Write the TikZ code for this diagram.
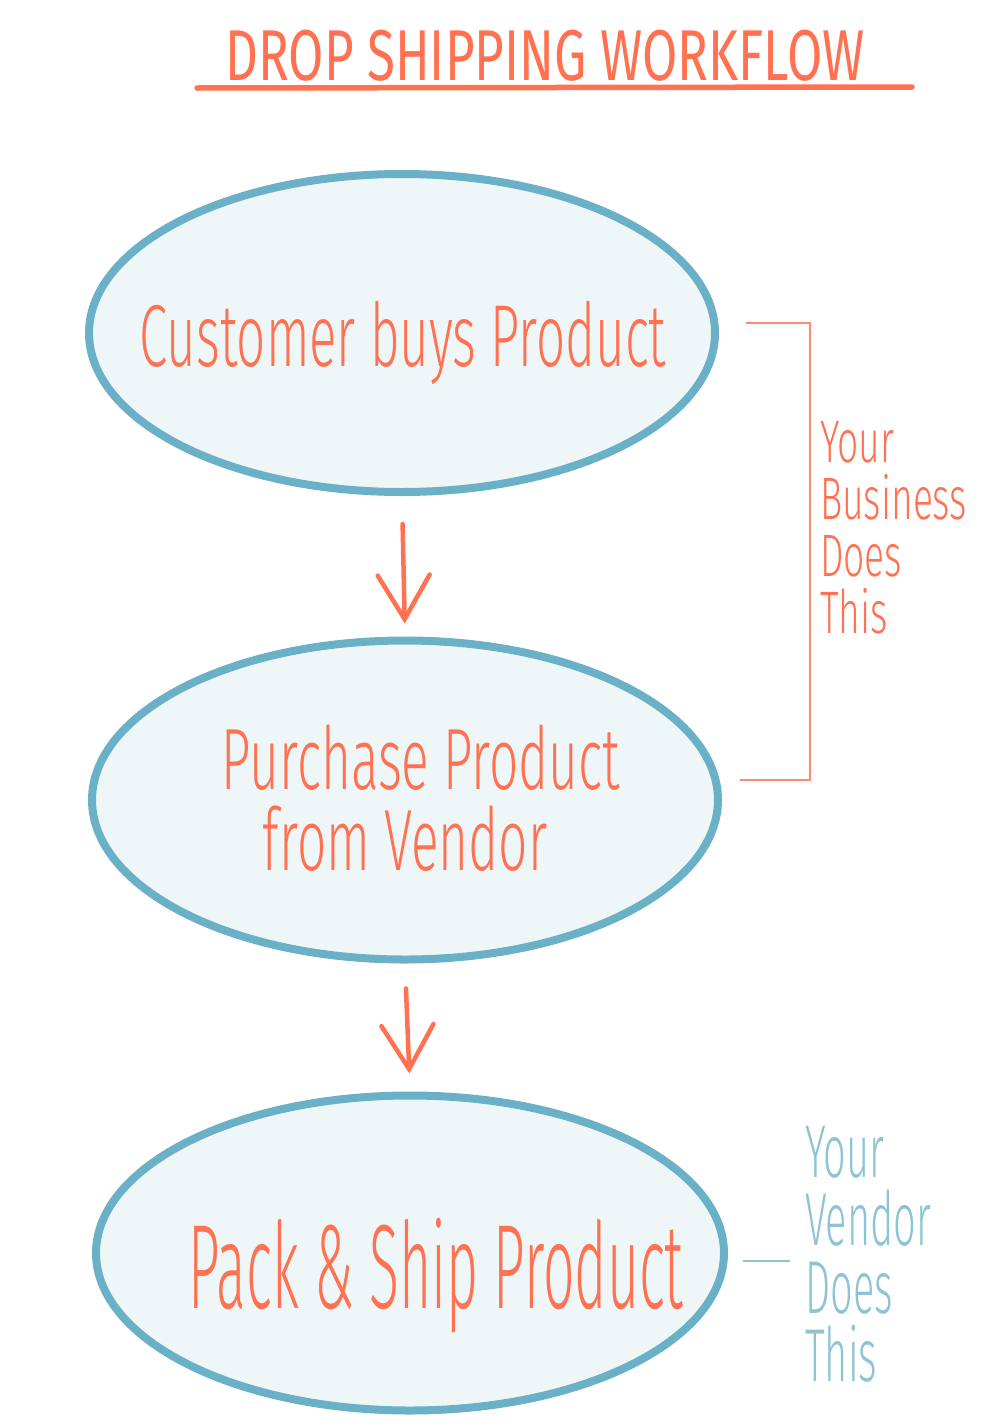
\documentclass[tikz,border=0pt]{standalone}
\usepackage{fontspec}
\usepackage{graphicx}
\usetikzlibrary{arrows.meta,shapes.geometric}
\newfontfamily\hand{Fira Sans}[UprightFont=* Light]
\newfontfamily\handreg{Fira Sans}
\definecolor{orng}{HTML}{FF7150}
\definecolor{orngl}{HTML}{FF8A70}
\definecolor{bstroke}{HTML}{6AB1C8}
\definecolor{bfill}{HTML}{EEF6F8}
\definecolor{blbl}{HTML}{8CC4D6}
\newcommand{\hs}[2]{\scalebox{#1}[1]{#2}}
\tikzset{
  stepell/.style={ellipse, draw=bstroke, fill=bfill, line width=8pt, inner sep=0pt},
  flow/.style={draw=orng, line width=4.5pt, line cap=round,
    -{Straight Barb[length=44pt,width=52pt,line cap=round]}},
  bigtext/.style={text=orng, inner sep=0pt, anchor=base},
  sidetext/.style={text=orng, inner sep=0pt, anchor=north west, align=left,
    font=\hand\fontsize{60}{57}\selectfont},
  vendtext/.style={text=blbl, inner sep=0pt, anchor=north west, align=left,
    font=\hand\fontsize{75}{68}\selectfont},
}
\begin{document}
\begin{tikzpicture}[x=1pt,y=-1pt]
\useasboundingbox (0,0) rectangle (1004,1427);
% title
\node[bigtext] (title) at (545,80) {\handreg\fontsize{72}{86}\selectfont\hs{0.71}{DROP SHIPPING WORKFLOW}};
\coordinate (ul1) at (197,88);
\coordinate (ul2) at (912,87);
\draw[orng, line width=5.5pt, line cap=round] (ul1) -- (ul2);
% ellipses
\node[stepell, minimum width=626pt, minimum height=318pt] (e1) at (402,333) {};
\node[stepell, minimum width=626pt, minimum height=319pt] (e2) at (405,800) {};
\node[stepell, minimum width=628pt, minimum height=315pt] (e3) at (410,1253) {};
% texts
\node[bigtext] (t1) at (403,366) {\hand\fontsize{88}{100}\selectfont\hs{0.58}{Customer buys Product}};
\node[bigtext] (t2a) at (421,789) {\hand\fontsize{87}{100}\selectfont\hs{0.59}{Purchase Product}};
\node[bigtext] (t2b) at (405,870) {\hand\fontsize{87}{100}\selectfont\hs{0.59}{from Vendor}};
\node[bigtext] (t3) at (436,1308) {\hand\fontsize{120}{130}\selectfont\hs{0.46}{Pack \& Ship Product}};
% arrows
\draw[flow, shorten <=28pt, shorten >=13pt] (e1.south) -- (e2.north);
\draw[flow, shorten <=25pt, shorten >=18pt] (e2.south) -- (e3.north);
% bracket
\coordinate (b1) at (746,323);
\coordinate (b2) at (810,323);
\coordinate (b3) at (810,780);
\coordinate (b4) at (740,780);
\draw[orngl, line width=2.2pt] (b1) -- (b2) -- (b3) -- (b4);
\node[sidetext] (side) at (820,420.7) {\hs{0.62}{Your}\\\hs{0.62}{Business}\\\hs{0.62}{Does}\\\hs{0.62}{This}};
% vendor
\coordinate (v1) at (743,1261);
\coordinate (v2) at (790,1261);
\draw[blbl, line width=2.2pt] (v1) -- (v2);
\node[vendtext] (vend) at (805,1126) {\hs{0.53}{Your}\\\hs{0.53}{Vendor}\\\hs{0.53}{Does}\\\hs{0.53}{This}};
\end{tikzpicture}
\end{document}
